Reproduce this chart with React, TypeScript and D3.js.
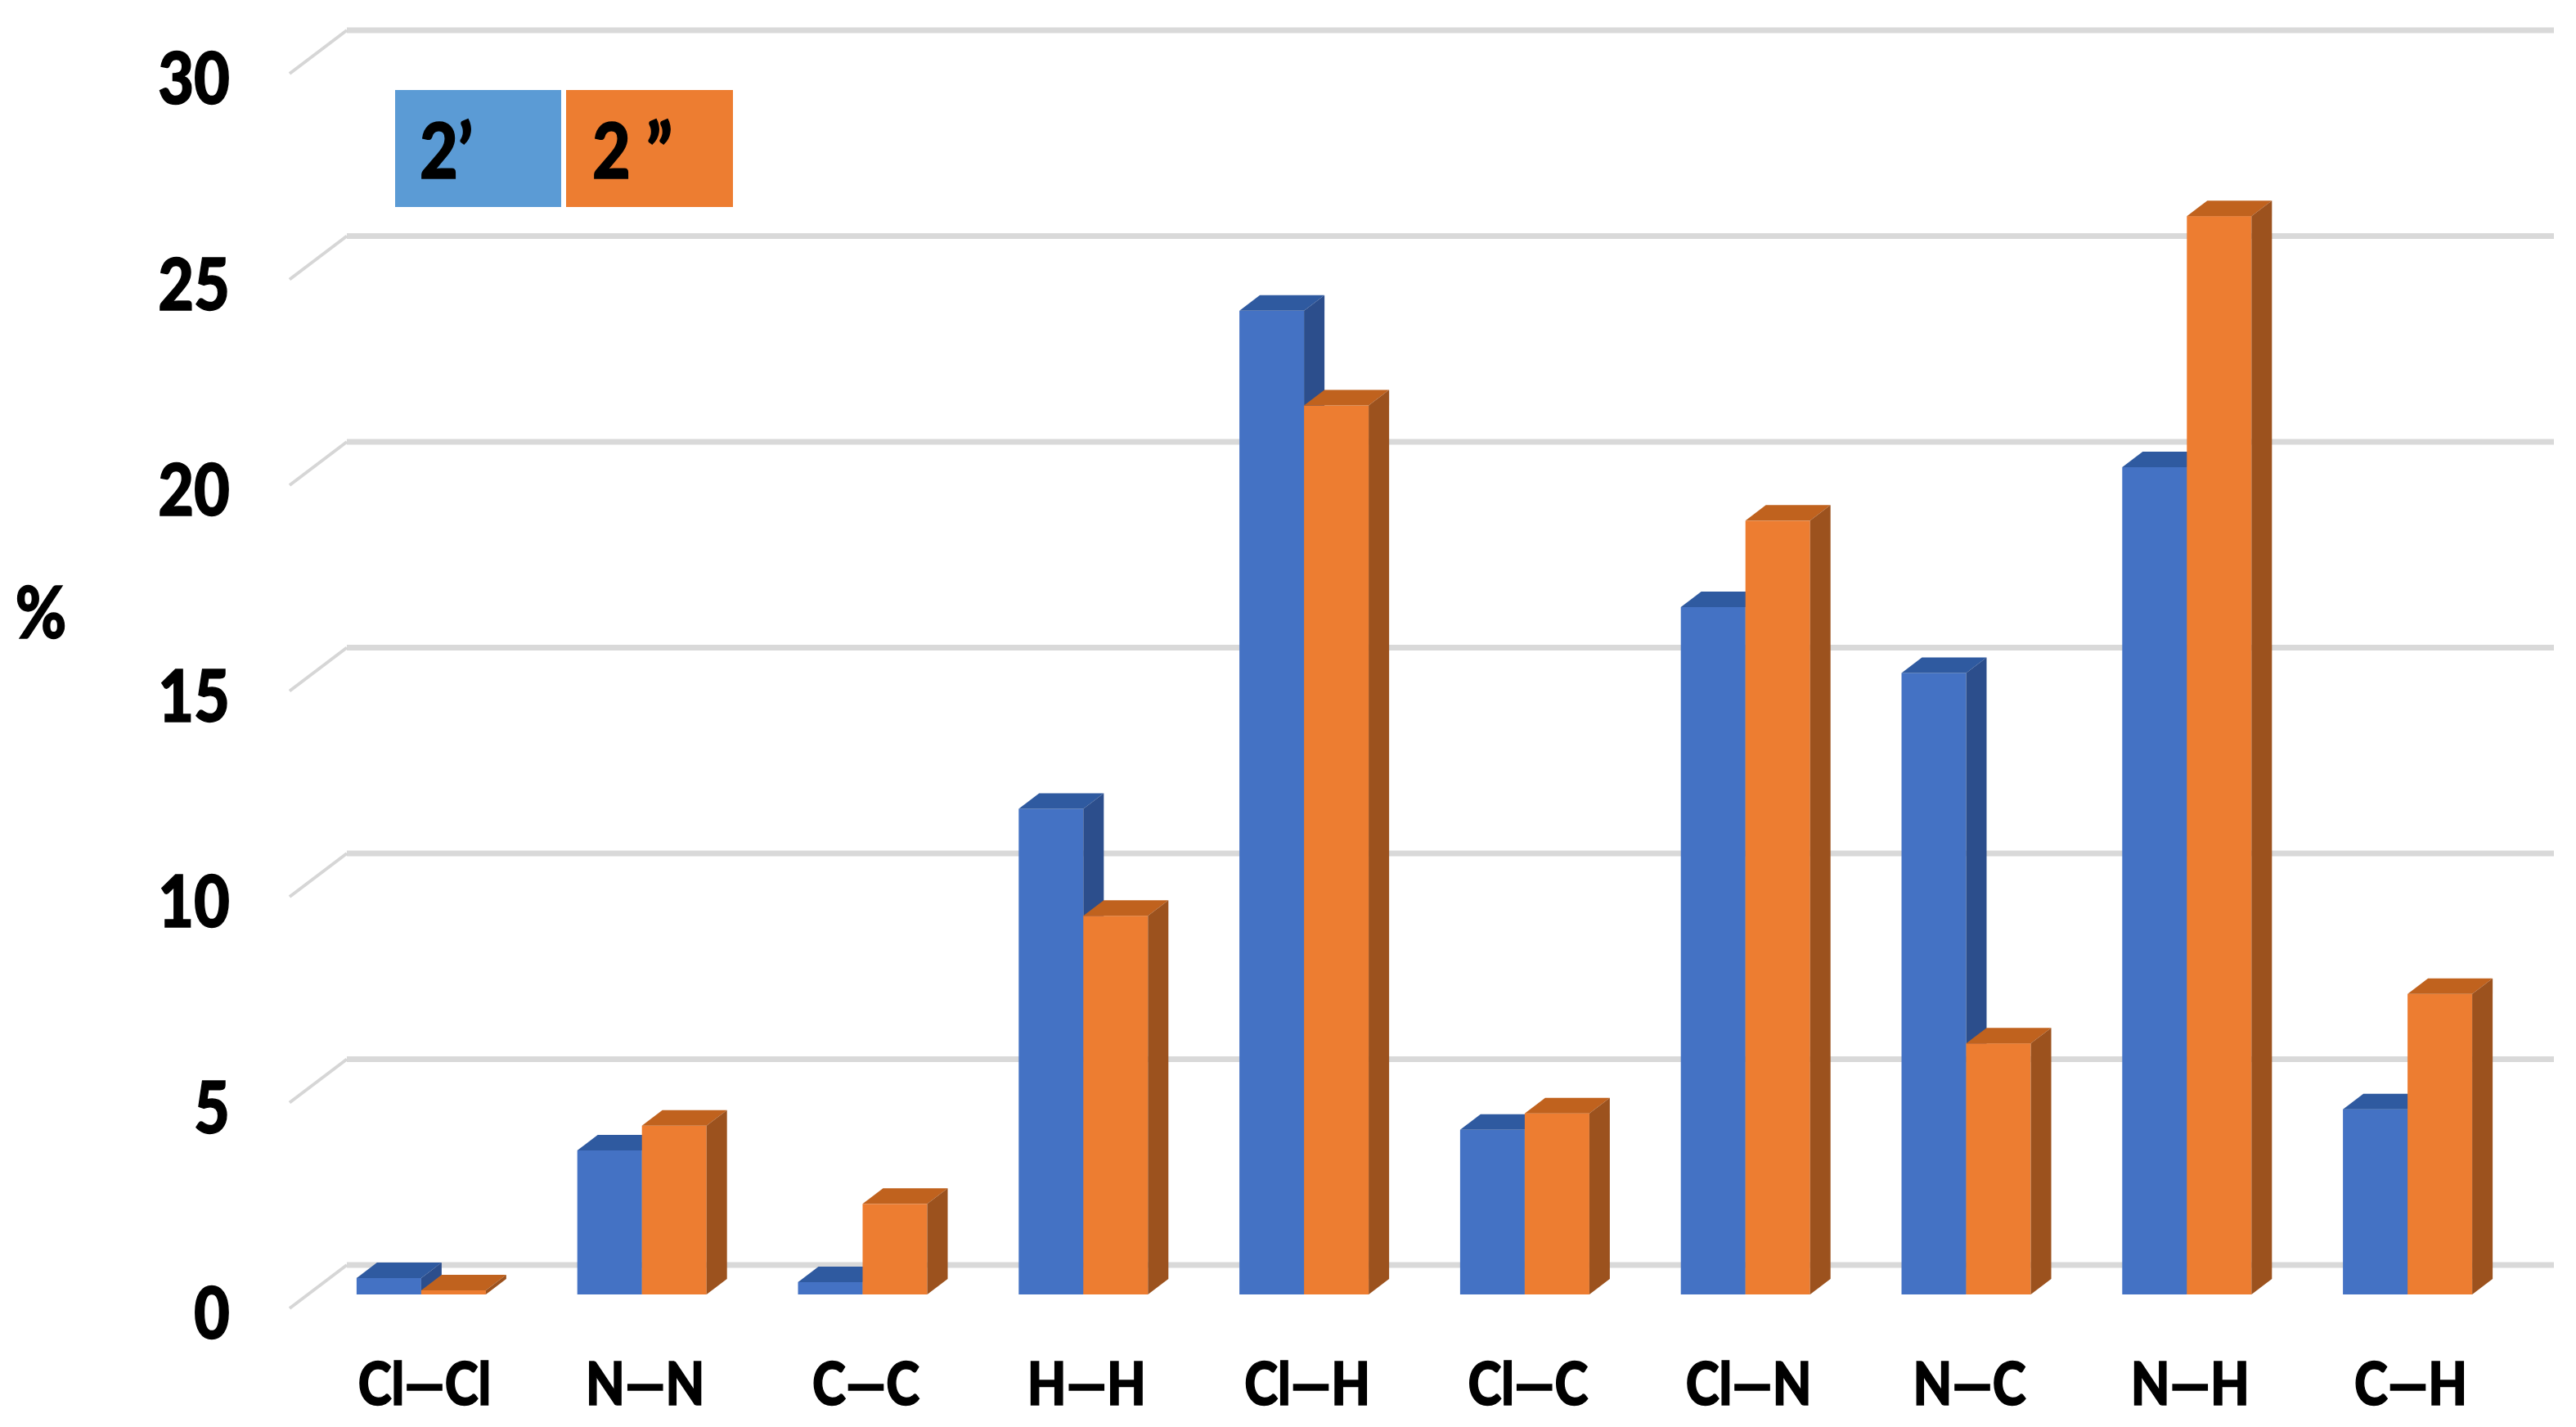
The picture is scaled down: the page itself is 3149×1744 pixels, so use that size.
import React from "react";
import * as d3 from "d3";

const categories = ["Cl—Cl", "N—N", "C—C", "H—H", "Cl—H", "Cl—C", "Cl—N", "N—C", "N—H", "C—H"];
const seriesNames = ["2’", "2 ”"];
const values2a = [0.4, 3.5, 0.3, 11.8, 23.9, 4.0, 16.7, 15.1, 20.1, 4.5];
const values2b = [0.1, 4.1, 2.2, 9.2, 21.6, 4.4, 18.8, 6.1, 26.2, 7.3];
const yTicks = [0, 5, 10, 15, 20, 25, 30];

const W = 3149;
const H = 1744;
const FONT = "Lato, 'Open Sans', 'DejaVu Sans', sans-serif";

// back plane
const x = d3.scaleBand().domain(categories).range([424, 3122]).paddingInner(0).paddingOuter(0);
const yBack = d3.scaleLinear().domain([0, 30]).range([1546, 37]);

// oblique depth offsets
const GRID_DX = -70, GRID_DY = 53; // front of floor relative to back wall
const BAR_FX = -44, BAR_FY = 36;   // bar front face relative to back wall
const DEPTH_X = 25, DEPTH_Y = -19; // bar depth
const BAR_W = 79;

const colors = [
  { front: "#4472c4", top: "#2f5aa0", side: "#2c4e8c" },
  { front: "#ed7d31", top: "#c0621e", side: "#9c521e" },
];
const legendColors = ["#5b9bd5", "#ed7d31"];

function Bar({ xl, v, c }: { xl: number; v: number; c: { front: string; top: string; side: string } }) {
  const top = yBack(v) + BAR_FY;
  const bottom = yBack(0) + BAR_FY;
  const xr = xl + BAR_W;
  const pts = (a: number[][]) => a.map((p) => p.join(",")).join(" ");
  return (
    <g>
      <rect x={xl} y={top} width={BAR_W} height={bottom - top} fill={c.front} />
      <polygon
        points={pts([[xl, top], [xl + DEPTH_X, top + DEPTH_Y], [xr + DEPTH_X, top + DEPTH_Y], [xr, top]])}
        fill={c.top}
      />
      <polygon
        points={pts([[xr, top], [xr + DEPTH_X, top + DEPTH_Y], [xr + DEPTH_X, bottom + DEPTH_Y], [xr, bottom]])}
        fill={c.side}
      />
    </g>
  );
}

const textStyle = { fontWeight: 900 as const, stroke: "#000", strokeWidth: 1.5, fill: "#000" };

export default function App() {
  const [x0, x1] = x.range();
  return (
    <svg
      width={W}
      height={H}
      viewBox={`0 0 ${W} ${H}`}
      style={{ position: "absolute", left: 0, top: 0, background: "#fff" }}
      fontFamily={FONT}
    >
      <rect x={0} y={0} width={W} height={H} fill="#fff" />
      {/* gridlines */}
      {yTicks.map((t) => (
        <g key={"g" + t}>
          <line x1={x0} x2={x1} y1={yBack(t)} y2={yBack(t)} stroke="#d9d9d9" strokeWidth={7} />
          <line x1={x0} y1={yBack(t)} x2={x0 + GRID_DX} y2={yBack(t) + GRID_DY} stroke="#d6d6d6" strokeWidth={4} />
        </g>
      ))}
      {/* y tick labels */}
      {yTicks.map((t) => (
        <text
          key={"t" + t}
          transform={`translate(281,${yBack(t) + GRID_DY + 37}) scale(0.86,1)`}
          textAnchor="end"
          fontSize={88}
          {...textStyle}
        >
          {t}
        </text>
      ))}
      <text transform={`translate(50,780) scale(0.86,1)`} textAnchor="middle" fontSize={88} {...textStyle}>
        %
      </text>
      {/* bars */}
      {categories.map((cat, i) => {
        const cx = (x(cat) as number) + x.bandwidth() / 2 + BAR_FX;
        return (
          <g key={cat}>
            <Bar xl={cx - BAR_W} v={values2a[i]} c={colors[0]} />
            <Bar xl={cx} v={values2b[i]} c={colors[1]} />
          </g>
        );
      })}
      {/* category labels */}
      {categories.map((cat) => {
        const cx = (x(cat) as number) + x.bandwidth() / 2 + BAR_FX + 4;
        return (
          <text
            key={"l" + cat}
            transform={`translate(${cx},1717) scale(0.86,1)`}
            textAnchor="middle"
            fontSize={72}
            {...textStyle}
          >
            {cat}
          </text>
        );
      })}
      {/* legend */}
      <rect x={483} y={110} width={203} height={143} fill={legendColors[0]} />
      <rect x={692} y={110} width={204} height={143} fill={legendColors[1]} />
      <text transform={`translate(513,218) scale(0.86,1)`} fontSize={94} {...textStyle}>
        {seriesNames[0]}
      </text>
      <text transform={`translate(724,218) scale(0.86,1)`} fontSize={94} {...textStyle}>
        {seriesNames[1]}
      </text>
    </svg>
  );
}
